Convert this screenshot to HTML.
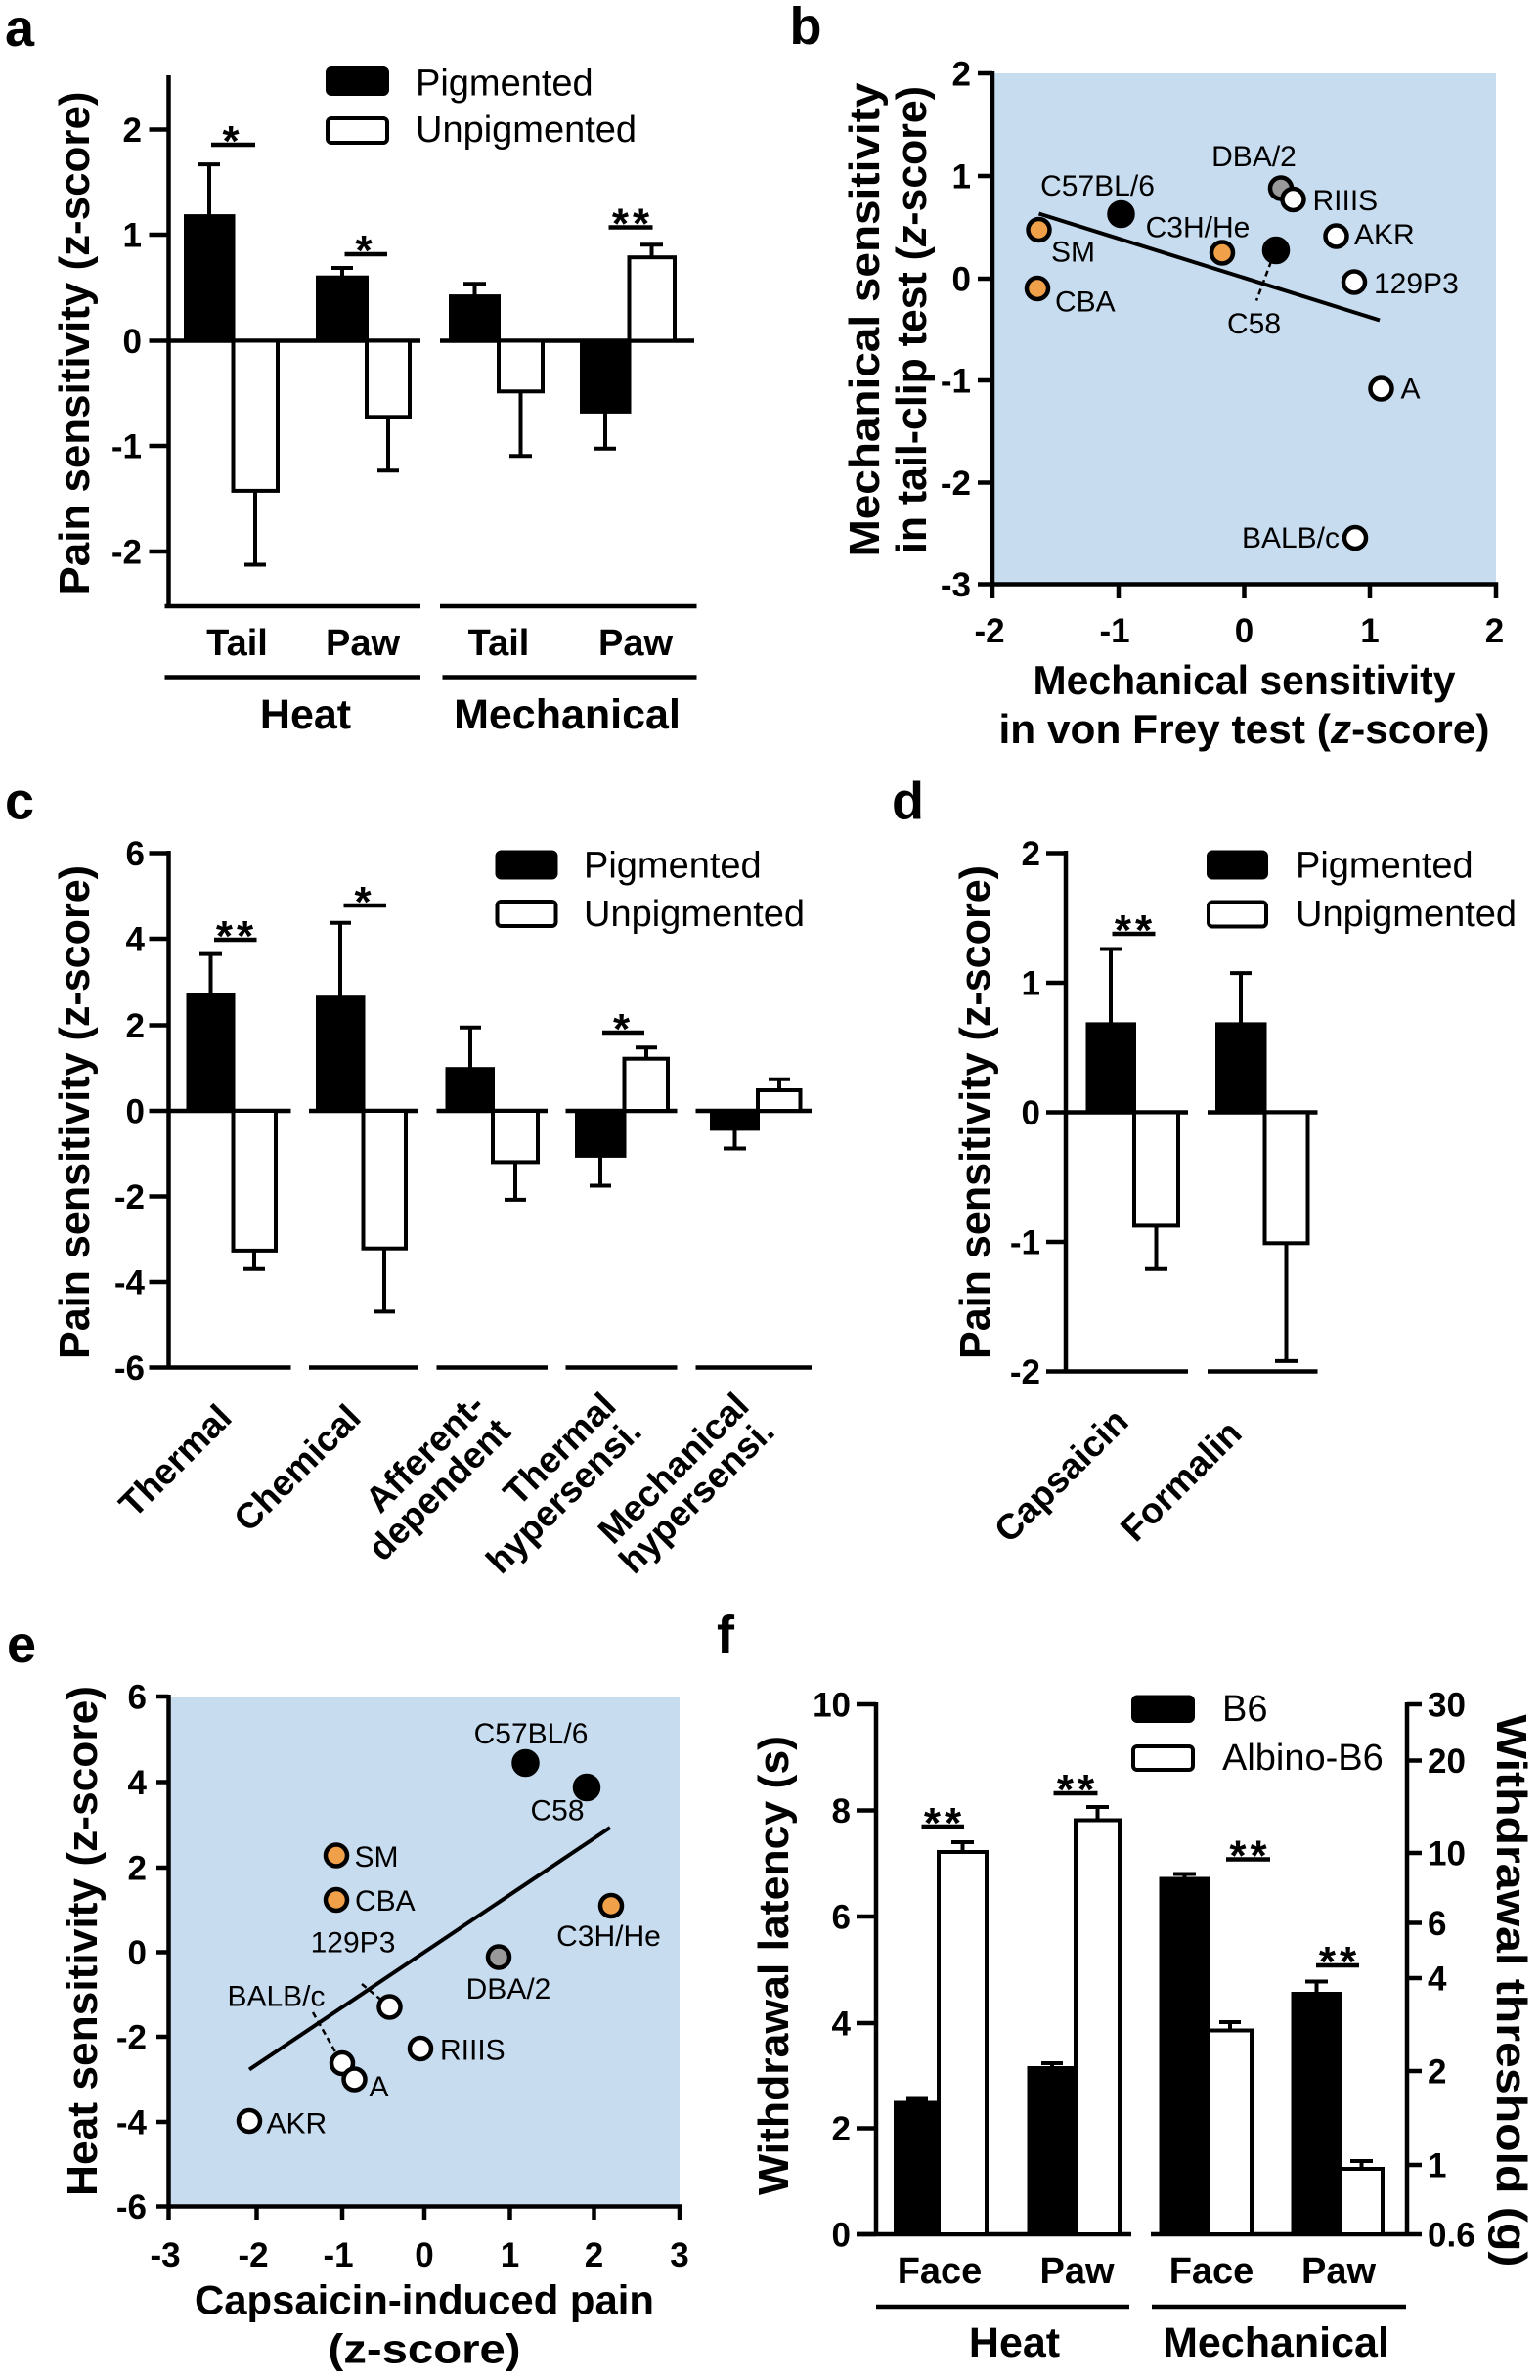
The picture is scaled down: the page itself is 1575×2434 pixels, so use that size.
<!DOCTYPE html>
<html><head><meta charset="utf-8"><style>
html,body{margin:0;padding:0;background:#fff;}
svg{display:block;}
text{font-family:"Liberation Sans",Arial,sans-serif;fill:#000;}
.b{font-weight:bold;}
.tk{font-size:35px;font-weight:bold;}
.lg{font-size:38px;}
.pt{font-size:30px;fill:#111;}
.st{font-size:44px;font-weight:bold;letter-spacing:4px;}
.ax{stroke:#000;stroke-width:4.5;fill:none;}
.ln{stroke:#000;stroke-width:4;fill:none;}
.bk{fill:#000;stroke:#000;stroke-width:4;}
.wh{fill:#fff;stroke:#000;stroke-width:4;}
</style></head><body>
<svg width="1575" height="2434" viewBox="0 0 1575 2434" xmlns="http://www.w3.org/2000/svg">
<rect width="1575" height="2434" fill="#fff"/>

<!-- ================= PANEL A ================= -->
<text x="5" y="47" class="b" font-size="54">a</text>
<path class="ax" d="M172.5,77 V620 M152.5,132.5 H172.5 M152.5,240 H172.5 M152.5,348.5 H172.5 M152.5,456 H172.5 M152.5,564 H172.5"/>
<path class="ax" d="M168.5,620 H430 M450,620 H712.5 M172.5,348.5 H430 M450,348.5 H710"/>
<g class="tk" text-anchor="end">
<text x="145" y="145">2</text><text x="145" y="252.5">1</text><text x="145" y="361">0</text><text x="145" y="468.5">-1</text><text x="145" y="576.5">-2</text>
</g>
<rect class="bk" x="190" y="221.1" width="48.5" height="127.4"/>
<path class="ln" d="M214,221 V168.1 M203,168.1 H225"/>
<rect class="wh" x="238.5" y="348.5" width="45.5" height="153.4"/>
<path class="ln" d="M261,501.9 V577.5 M250,577.5 H272"/>
<rect class="bk" x="325" y="283.7" width="50" height="64.8"/>
<path class="ln" d="M350,283.7 V274 M339,274 H361"/>
<rect class="wh" x="375" y="348.5" width="44" height="77.8"/>
<path class="ln" d="M397,426.3 V481.3 M386,481.3 H408"/>
<rect class="bk" x="461" y="303.1" width="49" height="45.4"/>
<path class="ln" d="M485.5,303 V290.2 M474,290.2 H497"/>
<rect class="wh" x="510" y="348.5" width="45" height="51.8"/>
<path class="ln" d="M532.5,400.3 V466.2 M521,466.2 H544"/>
<rect class="bk" x="595" y="348.5" width="48.5" height="72.4"/>
<path class="ln" d="M619,420.9 V458.7 M608,458.7 H630"/>
<rect class="wh" x="643.5" y="263.2" width="46.5" height="85.3"/>
<path class="ln" d="M666.5,263.2 V250.2 M655,250.2 H678"/>
<path class="ax" d="M216,148 H261 M352.5,260 H396 M622.5,232.5 H667.5"/>
<text class="st" x="238" y="159" text-anchor="middle">*</text>
<text class="st" x="374" y="271" text-anchor="middle">*</text>
<text class="st" x="647" y="243.5" text-anchor="middle">**</text>
<rect x="335" y="70" width="61" height="26" rx="4" class="bk"/>
<rect x="335" y="121" width="61" height="25" rx="4" class="wh"/>
<text class="lg" x="425" y="97.5">Pigmented</text>
<text class="lg" x="425" y="145">Unpigmented</text>
<g class="b" font-size="38" text-anchor="middle">
<text x="242.5" y="670">Tail</text><text x="371" y="670">Paw</text><text x="510" y="670">Tail</text><text x="650" y="670">Paw</text>
</g>
<path class="ax" d="M168.5,692.5 H430 M452.5,692.5 H712.5"/>
<g class="b" font-size="43" text-anchor="middle">
<text x="312.5" y="745">Heat</text><text x="580" y="745">Mechanical</text>
</g>
<text class="b" font-size="44" text-anchor="middle" transform="translate(91,351) rotate(-90)" textLength="515" lengthAdjust="spacingAndGlyphs">Pain sensitivity (z-score)</text>

<!-- ================= PANEL B ================= -->
<text x="807.5" y="45" class="b" font-size="54">b</text>
<rect x="1015" y="75" width="515" height="522.5" fill="#c8dcf0"/>
<path class="ax" d="M1015,73 V597.5 H1530 V612 M1000,75 H1015 M1000,180 H1015 M1000,285 H1015 M1000,389 H1015 M1000,493.5 H1015 M1000,597.5 H1015 M1015,597.5 V612 M1144,597.5 V612 M1272.5,597.5 V612 M1401,597.5 V612"/>
<g class="tk" text-anchor="end">
<text x="993" y="87.5">2</text><text x="993" y="192.5">1</text><text x="993" y="297.5">0</text><text x="993" y="401.5">-1</text><text x="993" y="506">-2</text><text x="993" y="610">-3</text>
</g>
<g class="tk" text-anchor="middle">
<text x="1012" y="657">-2</text><text x="1140" y="657">-1</text><text x="1272.5" y="657">0</text><text x="1401" y="657">1</text><text x="1528.5" y="657">2</text>
</g>
<path class="ln" d="M1062.5,218.5 L1411,327.5"/>
<path d="M1300,267.5 L1285,307.5" stroke="#000" stroke-width="2.5" stroke-dasharray="6,4"/>
<g stroke="#000" stroke-width="4.5">
<circle cx="1062.5" cy="235" r="11" fill="#f0a048"/>
<circle cx="1061" cy="295" r="11" fill="#f0a048"/>
<circle cx="1146.5" cy="219" r="12" fill="#000"/>
<circle cx="1250" cy="258.5" r="11" fill="#f0a048"/>
<circle cx="1305" cy="256" r="12" fill="#000"/>
<circle cx="1310" cy="192.5" r="11" fill="#999"/>
<circle cx="1322.5" cy="204" r="11" fill="#fff"/>
<circle cx="1366.5" cy="241.5" r="11" fill="#fff"/>
<circle cx="1385" cy="288.5" r="11" fill="#fff"/>
<circle cx="1412.5" cy="397.5" r="11" fill="#fff"/>
<circle cx="1386" cy="550" r="11" fill="#fff"/>
</g>
<g class="pt">
<text x="1282.5" y="170" text-anchor="middle">DBA/2</text>
<text x="1122.5" y="200" text-anchor="middle">C57BL/6</text>
<text x="1342.5" y="215">RIIIS</text>
<text x="1225" y="242.5" text-anchor="middle">C3H/He</text>
<text x="1075" y="267.5">SM</text>
<text x="1385" y="250">AKR</text>
<text x="1405" y="300">129P3</text>
<text x="1079" y="318.5">CBA</text>
<text x="1282.5" y="341" text-anchor="middle">C58</text>
<text x="1432.5" y="407.5">A</text>
<text x="1370" y="560" text-anchor="end">BALB/c</text>
</g>
<text class="b" font-size="42" x="1272.5" y="710" text-anchor="middle" textLength="432" lengthAdjust="spacingAndGlyphs">Mechanical sensitivity</text>
<text class="b" font-size="42" x="1272.5" y="760" text-anchor="middle" textLength="502" lengthAdjust="spacingAndGlyphs">in von Frey test (<tspan font-style="italic">z</tspan>-score)</text>
<text class="b" font-size="44" text-anchor="middle" transform="translate(899,327) rotate(-90)" textLength="485" lengthAdjust="spacingAndGlyphs">Mechanical sensitivity</text>
<text class="b" font-size="44" text-anchor="middle" transform="translate(947,327) rotate(-90)" textLength="478" lengthAdjust="spacingAndGlyphs">in tail-clip test (<tspan font-style="italic">z</tspan>-score)</text>

<!-- ================= PANEL C ================= -->
<text x="5" y="837.5" class="b" font-size="54">c</text>
<path class="ax" d="M172.5,870 V1398.5 M152.5,872.5 H172.5 M152.5,960 H172.5 M152.5,1048.5 H172.5 M152.5,1136 H172.5 M152.5,1223.5 H172.5 M152.5,1311 H172.5 M152.5,1398.5 H172.5"/>
<path class="ax" d="M172.5,1136 H297.5 M316,1136 H427.5 M446.5,1136 H560 M578.5,1136 H692.5 M711.5,1136 H830"/>
<path class="ax" d="M172.5,1398.5 H297.5 M316,1398.5 H427.5 M446.5,1398.5 H560 M578.5,1398.5 H692.5 M711.5,1398.5 H830"/>
<g class="tk" text-anchor="end">
<text x="148" y="885">6</text><text x="148" y="972.5">4</text><text x="148" y="1061">2</text><text x="148" y="1148.5">0</text><text x="148" y="1236">-2</text><text x="148" y="1323.5">-4</text><text x="148" y="1411">-6</text>
</g>
<rect class="bk" x="192.5" y="1018" width="46" height="118"/>
<path class="ln" d="M215.5,1018 V975.6 M204,975.6 H227"/>
<rect class="wh" x="238.5" y="1136" width="43.5" height="142.9"/>
<path class="ln" d="M260,1278.9 V1297.7 M249,1297.7 H271"/>
<rect class="bk" x="325" y="1020.2" width="46.5" height="115.8"/>
<path class="ln" d="M348,1020 V943.7 M337,943.7 H359"/>
<rect class="wh" x="371.5" y="1136" width="43.5" height="140.7"/>
<path class="ln" d="M393,1276.7 V1341.4 M382,1341.4 H404"/>
<rect class="bk" x="457.5" y="1093.2" width="46.5" height="42.8"/>
<path class="ln" d="M481,1093 V1050.8 M470,1050.8 H492"/>
<rect class="wh" x="504" y="1136" width="46" height="52.4"/>
<path class="ln" d="M527,1188.4 V1226.9 M516,1226.9 H538"/>
<rect class="bk" x="590" y="1136" width="48.5" height="45.9"/>
<path class="ln" d="M614,1181.9 V1212.5 M603,1212.5 H625"/>
<rect class="wh" x="638.5" y="1082.7" width="44.5" height="53.3"/>
<path class="ln" d="M661,1082.7 V1071.3 M650,1071.3 H672"/>
<rect class="bk" x="728" y="1136" width="47" height="18.4"/>
<path class="ln" d="M751.5,1154.4 V1174.5 M740,1174.5 H763"/>
<rect class="wh" x="775" y="1115" width="43.5" height="21"/>
<path class="ln" d="M797,1115 V1103.7 M786,1103.7 H808"/>
<path class="ax" d="M219,961 H262.5 M351.5,926 H395 M616,1056 H659"/>
<text class="st" x="242" y="972" text-anchor="middle">**</text>
<text class="st" x="373" y="937" text-anchor="middle">*</text>
<text class="st" x="637.5" y="1067" text-anchor="middle">*</text>
<rect x="508.5" y="871.5" width="60" height="26" rx="4" class="bk"/>
<rect x="508.5" y="922" width="60" height="25" rx="4" class="wh"/>
<text class="lg" x="597" y="897.5">Pigmented</text>
<text class="lg" x="597" y="947">Unpigmented</text>
<g class="b" font-size="37" text-anchor="end">
<text transform="translate(239,1452) rotate(-45)">Thermal</text>
<text transform="translate(371,1452) rotate(-45)">Chemical</text>
<text transform="translate(498,1440) rotate(-45)">Afferent-</text>
<text transform="translate(524,1466) rotate(-45)">dependent</text>
<text transform="translate(632,1440) rotate(-45)">Thermal</text>
<text transform="translate(658,1466) rotate(-45)">hypersensi.</text>
<text transform="translate(768,1440) rotate(-45)">Mechanical</text>
<text transform="translate(794,1466) rotate(-45)">hypersensi.</text>
</g>
<text class="b" font-size="44" text-anchor="middle" transform="translate(91,1137.5) rotate(-90)" textLength="505" lengthAdjust="spacingAndGlyphs">Pain sensitivity (z-score)</text>

<!-- ================= PANEL D ================= -->
<text x="912" y="837.5" class="b" font-size="54">d</text>
<path class="ax" d="M1090,870 V1402.5 M1070,872.5 H1090 M1070,1005 H1090 M1070,1137.5 H1090 M1070,1270 H1090 M1070,1402.5 H1090"/>
<path class="ax" d="M1090,1137.5 H1215 M1235,1137.5 H1347.5 M1090,1402.5 H1215 M1235,1402.5 H1347.5"/>
<g class="tk" text-anchor="end">
<text x="1064" y="885">2</text><text x="1064" y="1017.5">1</text><text x="1064" y="1150">0</text><text x="1064" y="1282.5">-1</text><text x="1064" y="1415">-2</text>
</g>
<rect class="bk" x="1112.5" y="1047.4" width="47.5" height="90.1"/>
<path class="ln" d="M1136,1047.4 V970.5 M1125,970.5 H1147"/>
<rect class="wh" x="1160" y="1137.5" width="45" height="115.9"/>
<path class="ln" d="M1182.5,1253.4 V1297.8 M1171,1297.8 H1194"/>
<rect class="bk" x="1245" y="1047.4" width="48.5" height="90.1"/>
<path class="ln" d="M1269,1047.4 V995.1 M1258,995.1 H1280"/>
<rect class="wh" x="1293.5" y="1137.5" width="44" height="133.8"/>
<path class="ln" d="M1315.5,1271.3 V1391.9 M1304,1391.9 H1327"/>
<path class="ax" d="M1137.5,955 H1181.5"/>
<text class="st" x="1161" y="966" text-anchor="middle">**</text>
<rect x="1236" y="871.5" width="59" height="26" rx="4" class="bk"/>
<rect x="1236" y="922.5" width="59" height="25" rx="4" class="wh"/>
<text class="lg" x="1325" y="897.5">Pigmented</text>
<text class="lg" x="1325" y="947">Unpigmented</text>
<g class="b" font-size="37" text-anchor="end">
<text transform="translate(1156,1456) rotate(-45)">Capsaicin</text>
<text transform="translate(1272,1468) rotate(-45)">Formalin</text>
</g>
<text class="b" font-size="44" text-anchor="middle" transform="translate(1012,1137.5) rotate(-90)" textLength="505" lengthAdjust="spacingAndGlyphs">Pain sensitivity (z-score)</text>

<!-- ================= PANEL E ================= -->
<text x="7" y="1700" class="b" font-size="54">e</text>
<rect x="172.5" y="1735" width="522.5" height="521.5" fill="#c8dcf0"/>
<path class="ax" d="M172.5,1733 V2256.5 H695 V2270 M160,1735 H172.5 M160,1822.5 H172.5 M160,1910 H172.5 M160,1996.5 H172.5 M160,2083 H172.5 M160,2170 H172.5 M160,2256.5 H172.5 M172.5,2256.5 V2270 M262.5,2256.5 V2270 M350,2256.5 V2270 M434,2256.5 V2270 M521.5,2256.5 V2270 M607.5,2256.5 V2270"/>
<g class="tk" text-anchor="end">
<text x="150" y="1747.5">6</text><text x="150" y="1835">4</text><text x="150" y="1922.5">2</text><text x="150" y="2009">0</text><text x="150" y="2095.5">-2</text><text x="150" y="2182.5">-4</text><text x="150" y="2269">-6</text>
</g>
<g class="tk" text-anchor="middle">
<text x="169" y="2318">-3</text><text x="259" y="2318">-2</text><text x="346" y="2318">-1</text><text x="434" y="2318">0</text><text x="521.5" y="2318">1</text><text x="607.5" y="2318">2</text><text x="695" y="2318">3</text>
</g>
<path class="ln" d="M255,2116.5 L624,1869"/>
<path d="M370,2029 L397.5,2051.5 M320,2058 L347.5,2106.5" stroke="#000" stroke-width="2.5" stroke-dasharray="6,4"/>
<g stroke="#000" stroke-width="4.5">
<circle cx="537.5" cy="1803" r="12" fill="#000"/>
<circle cx="600" cy="1828" r="12" fill="#000"/>
<circle cx="344" cy="1897.5" r="11" fill="#f0a048"/>
<circle cx="344" cy="1943" r="11" fill="#f0a048"/>
<circle cx="625" cy="1949" r="11" fill="#f0a048"/>
<circle cx="510" cy="2001.5" r="11" fill="#999"/>
<circle cx="398.5" cy="2052.5" r="11" fill="#fff"/>
<circle cx="430" cy="2095" r="11" fill="#fff"/>
<circle cx="350" cy="2110" r="11" fill="#fff"/>
<circle cx="362.5" cy="2126.5" r="11" fill="#fff"/>
<circle cx="255" cy="2169" r="11" fill="#fff"/>
</g>
<g class="pt">
<text x="543" y="1783" text-anchor="middle">C57BL/6</text>
<text x="570" y="1861.5" text-anchor="middle">C58</text>
<text x="362.5" y="1909">SM</text>
<text x="363" y="1954">CBA</text>
<text x="622.5" y="1990" text-anchor="middle">C3H/He</text>
<text x="361" y="1996.5" text-anchor="middle">129P3</text>
<text x="520" y="2044" text-anchor="middle">DBA/2</text>
<text x="282.5" y="2051.5" text-anchor="middle">BALB/c</text>
<text x="450" y="2106.5">RIIIS</text>
<text x="377.5" y="2144">A</text>
<text x="272.5" y="2181.5">AKR</text>
</g>
<text class="b" font-size="42" x="434" y="2366.5" text-anchor="middle" textLength="470" lengthAdjust="spacingAndGlyphs">Capsaicin-induced pain</text>
<text class="b" font-size="42" x="434" y="2416.5" text-anchor="middle" textLength="197" lengthAdjust="spacingAndGlyphs">(z-score)</text>
<text class="b" font-size="44" text-anchor="middle" transform="translate(99,1985) rotate(-90)" textLength="522" lengthAdjust="spacingAndGlyphs">Heat sensitivity (z-score)</text>

<!-- ================= PANEL F ================= -->
<text x="733" y="1690" class="b" font-size="54">f</text>
<path class="ax" d="M896,1741 V2285 M876,1743 H896 M876,1851.5 H896 M876,1960 H896 M876,2069 H896 M876,2176.5 H896 M876,2285 H896"/>
<path class="ax" d="M876,2285 H1157 M1177,2285 H1439 V1741 M1439,1743 H1454 M1439,1800.5 H1454 M1439,1895 H1454 M1439,1966.5 H1454 M1439,2023 H1454 M1439,2118 H1454 M1439,2214 H1454 M1439,2285 H1454"/>
<g class="tk" text-anchor="end">
<text x="870" y="1755.5">10</text><text x="870" y="1864">8</text><text x="870" y="1972.5">6</text><text x="870" y="2081.5">4</text><text x="870" y="2189">2</text><text x="870" y="2297.5">0</text>
</g>
<g class="tk">
<text x="1460" y="1755.5">30</text><text x="1460" y="1813">20</text><text x="1460" y="1907.5">10</text><text x="1460" y="1979">6</text><text x="1460" y="2035.5">4</text><text x="1460" y="2130.5">2</text><text x="1460" y="2226.5">1</text><text x="1460" y="2297.5">0.6</text>
</g>
<rect class="bk" x="916" y="2150.5" width="44" height="134.5"/>
<path class="ln" d="M938,2150.5 V2146.5 M927,2146.5 H949"/>
<rect class="wh" x="960" y="1894" width="49" height="391"/>
<path class="ln" d="M984.5,1894 V1884 M973,1884 H996"/>
<rect class="bk" x="1052.5" y="2115" width="47.5" height="170"/>
<path class="ln" d="M1076,2115 V2110 M1065,2110 H1087"/>
<rect class="wh" x="1100" y="1861.5" width="45" height="423.5"/>
<path class="ln" d="M1122.5,1861.5 V1848 M1111,1848 H1134"/>
<rect class="bk" x="1187.5" y="1921.5" width="48.5" height="363.5"/>
<path class="ln" d="M1211.5,1921.5 V1916.5 M1200,1916.5 H1223"/>
<rect class="wh" x="1236" y="2076.5" width="44" height="208.5"/>
<path class="ln" d="M1258,2076.5 V2068 M1247,2068 H1269"/>
<rect class="bk" x="1322.5" y="2039" width="48.5" height="246"/>
<path class="ln" d="M1346.5,2039 V2026.5 M1335,2026.5 H1358"/>
<rect class="wh" x="1371" y="2218" width="43" height="67"/>
<path class="ln" d="M1392.5,2218 V2210 M1381,2210 H1404"/>
<path class="ax" d="M942.5,1868 H986 M1077.5,1834 H1122.5 M1254,1901.5 H1299 M1346,2010 H1390"/>
<text class="st" x="966" y="1879" text-anchor="middle">**</text>
<text class="st" x="1102" y="1845" text-anchor="middle">**</text>
<text class="st" x="1278.5" y="1912.5" text-anchor="middle">**</text>
<text class="st" x="1370" y="2021" text-anchor="middle">**</text>
<rect x="1159" y="1735.5" width="61" height="24.5" rx="4" class="bk"/>
<rect x="1159" y="1786" width="61" height="24" rx="4" class="wh"/>
<text class="lg" x="1250" y="1760">B6</text>
<text class="lg" x="1250" y="1810">Albino-B6</text>
<g class="b" font-size="38" text-anchor="middle">
<text x="961" y="2335">Face</text><text x="1101.5" y="2335">Paw</text><text x="1239" y="2335">Face</text><text x="1369" y="2335">Paw</text>
</g>
<path class="ax" d="M896,2359 H1155 M1178,2359 H1438"/>
<g class="b" font-size="43" text-anchor="middle">
<text x="1037.5" y="2410">Heat</text><text x="1305" y="2410">Mechanical</text>
</g>
<text class="b" font-size="44" text-anchor="middle" transform="translate(806,2010) rotate(-90)" textLength="470" lengthAdjust="spacingAndGlyphs">Withdrawal latency (s)</text>
<text class="b" font-size="44" text-anchor="middle" transform="translate(1531,2036) rotate(90)" textLength="565" lengthAdjust="spacingAndGlyphs">Withdrawal threshold (g)</text>
</svg>
</body></html>
